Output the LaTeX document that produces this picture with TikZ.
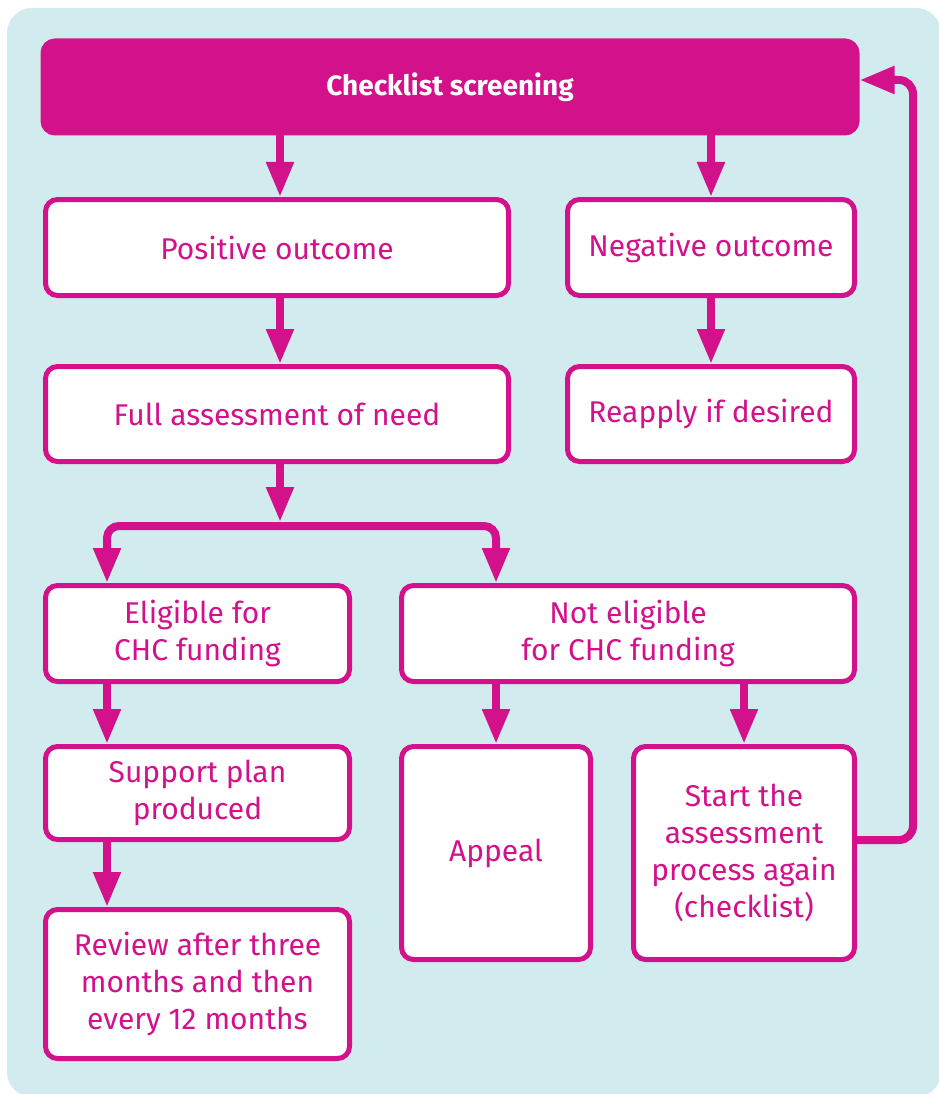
\documentclass[tikz,border=0pt]{standalone}
\usepackage{fontspec}
\setmainfont{Fira Sans}
\usetikzlibrary{arrows.meta}
\definecolor{chcpink}{RGB}{210,17,139}
\definecolor{chcblue}{RGB}{209,235,238}

\begin{document}
\begin{tikzpicture}[x=1pt, y=-1pt,
    box/.style={draw=chcpink, line width=5pt, fill=white, rounded corners=12pt,
      text=chcpink, align=center, inner sep=0pt,
      font=\fontsize{30}{37}\selectfont},
    arr/.style={draw=chcpink, line width=8pt,
      -{Triangle[width=26pt, length=35pt]}}]
    \useasboundingbox (0,0) rectangle (938,1094);
    \fill[chcblue, rounded corners=25pt] (7,8) rectangle (941,1097);
    % top row
    \node[box, fill=chcpink, draw=chcpink, text=white, minimum width=814pt, minimum height=92pt,
      font=\bfseries\fontsize{28}{34}\selectfont] (screen) at (450,87) {Checklist screening};
    \node[box, minimum width=463pt, minimum height=96pt] (pos) at (277,247.5) {Positive outcome};
    \node[box, minimum width=287pt, minimum height=96pt] (neg) at (711,247.5) {Negative outcome};
    \node[box, minimum width=463pt, minimum height=95pt] (full) at (277,414) {Full assessment of need};
    \node[box, minimum width=287pt, minimum height=95pt] (reapply) at (711,414) {Reapply if desired};
    % eligibility
    \node[box, minimum width=304pt, minimum height=96pt] (elig) at (197.5,633.5) {Eligible for\\CHC funding};
    \node[box, minimum width=453pt, minimum height=96pt] (notelig) at (628,633.5) {Not eligible\\for CHC funding};
    \node[box, minimum width=304pt, minimum height=93pt] (plan) at (197.5,793) {Support plan\\produced};
    \node[box, minimum width=189pt, minimum height=213pt] (appeal) at (496,853) {Appeal};
    \node[box, minimum width=221pt, minimum height=213pt] (restart) at (744,853)
      {Start the\\assessment\\process again\\(checklist)};
    \node[box, minimum width=304pt, minimum height=149pt] (review) at (197.5,984)
      {Review after three\\months and then\\every 12 months};
    \coordinate (split) at (280,526);
    \coordinate (loop) at (913,80);

    \draw[arr] (screen.south -| 280,0) -- (pos.north -| 280,0);
    \draw[arr] (screen.south -| neg.north) -- (neg.north);
    \draw[arr] (pos.south -| 280,0) -- (full.north -| 280,0);
    \draw[arr] (neg.south) -- (reapply.north);
    \draw[arr] (full.south -| split) -- ([yshift=4pt]split);
    \draw[arr, rounded corners=12pt] (split) -| (elig.north -| 107,0);
    \draw[arr, rounded corners=12pt] (split) -| (notelig.north -| appeal.north);
    \draw[arr] (elig.south -| 107,0) -- (plan.north -| 107,0);
    \draw[arr] (plan.south -| 107,0) -- (review.north -| 107,0);
    \draw[arr] (notelig.south -| appeal.north) -- (appeal.north);
    \draw[arr] (notelig.south -| restart.north) -- (restart.north);
    \draw[arr, rounded corners=14pt] ([yshift=13pt]restart.east) -| (loop) -- (screen.east |- loop);
\end{tikzpicture}
\end{document}
